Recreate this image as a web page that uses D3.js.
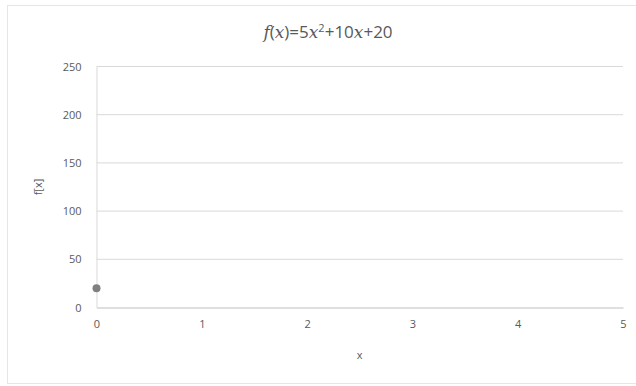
<!DOCTYPE html>
<html>
<head>
<meta charset="utf-8">
<script src="https://cdn.jsdelivr.net/npm/d3@7"></script>
<style>
  body { margin: 0; background: #fff; }
  text { font-family: "Open Sans", "Liberation Sans", sans-serif; }
</style>
</head>
<body>
<div id="chart"></div>
<script>
// data
const xValues = [0]
const yValues = [20]
const xTicks = [0, 1, 2, 3, 4, 5]
const yTicks = [0, 50, 100, 150, 200, 250]

const width = 636, height = 386
const margin = {top: 66.5, right: 13, bottom: 78.5, left: 96.5}

const svg = d3.select("#chart")
    .append("svg")
    .attr("width", width)
    .attr("height", height)

// chart border
svg.append("rect")
    .attr("x", 7.5).attr("y", 5.5)
    .attr("width", 640).attr("height", 378)
    .attr("fill", "none")
    .attr("stroke", "#e6e6e6")

const x = d3.scaleLinear().domain([0, 5]).range([margin.left, width - margin.right])
const y = d3.scaleLinear().domain([0, 250]).range([height - margin.bottom, margin.top])

// gridlines
svg.append("g")
    .selectAll("line")
    .data(yTicks.filter(d => d > 0))
    .join("line")
    .attr("x1", x(0)).attr("x2", x(5))
    .attr("y1", d => y(d)).attr("y2", d => y(d))
    .attr("stroke", "#d9d9d9")

// axes
const xAxis = svg.append("g")
    .attr("transform", `translate(0,${y(0)})`)
    .call(d3.axisBottom(x).tickValues(xTicks).tickFormat(d3.format("d")).tickSize(0).tickPadding(13))
xAxis.select(".domain").attr("stroke", "#bfbfbf")

const yAxis = svg.append("g")
    .attr("transform", `translate(${x(0)},0)`)
    .call(d3.axisLeft(y).tickValues(yTicks).tickSize(0).tickPadding(15))
yAxis.select(".domain").attr("stroke", "#d9d9d9")

svg.selectAll(".tick text")
    .attr("fill", "#595959")
    .attr("font-size", 11)

// points
svg.append("g")
    .selectAll("circle")
    .data(xValues.map((d, i) => ({x: d, y: yValues[i]})))
    .join("circle")
    .attr("cx", d => x(d.x))
    .attr("cy", d => y(d.y))
    .attr("r", 4)
    .attr("fill", "#7f7f7f")

// titles
const title = svg.append("text")
    .attr("x", 328)
    .attr("y", 38)
    .attr("text-anchor", "middle")
    .attr("fill", "#595959")
    .attr("font-size", 17)
title.append("tspan").attr("font-style", "italic").attr("font-family", "DejaVu Serif").text("f")
title.append("tspan").text("(")
title.append("tspan").attr("font-style", "italic").attr("font-family", "DejaVu Serif").text("x")
title.append("tspan").text(")=5")
title.append("tspan").attr("font-style", "italic").attr("font-family", "DejaVu Serif").text("x")
title.append("tspan").attr("font-size", 11).attr("dy", -6).text("2")
title.append("tspan").attr("dy", 6).text("+10")
title.append("tspan").attr("font-style", "italic").attr("font-family", "DejaVu Serif").text("x")
title.append("tspan").text("+20")

svg.append("text")
    .attr("x", (x(0) + x(5)) / 2)
    .attr("y", 359)
    .attr("text-anchor", "middle")
    .attr("fill", "#595959")
    .attr("font-size", 11)
    .text("x")

svg.append("text")
    .attr("transform", `translate(42,${(y(0) + y(250)) / 2}) rotate(-90)`)
    .attr("text-anchor", "middle")
    .attr("fill", "#595959")
    .attr("font-size", 11)
    .text("f[x]")
</script>
</body>
</html>
